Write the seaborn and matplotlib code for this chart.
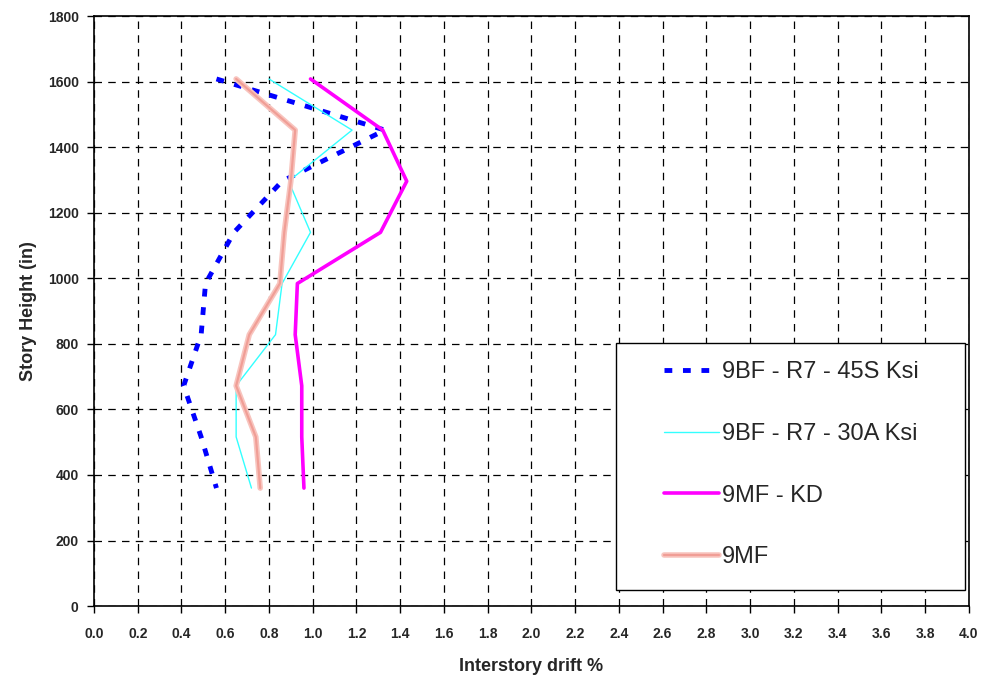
import matplotlib
matplotlib.use('Agg')
import matplotlib.pyplot as plt
import matplotlib.patheffects as pe
import seaborn as sns
import pandas as pd
from matplotlib.patches import Rectangle

# ── Data ───────────────────────────────────────────────────
story_height = [1608, 1452, 1296, 1140, 984, 828, 672, 516, 360]

drift_bf_45s = [0.56, 1.33, 0.86, 0.64, 0.51, 0.49, 0.41, 0.49, 0.56]
drift_bf_30a = [0.80, 1.18, 0.89, 0.99, 0.86, 0.83, 0.65, 0.65, 0.72]
drift_mf_kd = [0.99, 1.32, 1.43, 1.31, 0.93, 0.92, 0.95, 0.95, 0.96]
drift_mf = [0.65, 0.92, 0.90, 0.87, 0.85, 0.71, 0.65, 0.74, 0.76]

labels = ['9BF - R7 - 45S Ksi', '9BF - R7 - 30A Ksi', '9MF - KD', '9MF']

x_ticks = [round(0.2 * i, 1) for i in range(21)]
y_ticks = list(range(0, 1801, 200))

# ── Style ──────────────────────────────────────────────────
sns.set_style('white')
plt.rcParams['font.family'] = ['Liberation Sans', 'DejaVu Sans']

fig = plt.figure(figsize=(9.83, 6.81), dpi=100)
ax = fig.add_axes([0.0956, 0.110, 0.890, 0.8665])

series = [drift_bf_45s, drift_bf_30a, drift_mf_kd, drift_mf]
styles = [
    dict(color='#0000ff', linewidth=3.5, linestyle=(0, (1.6, 2.2))),
    dict(color='#33ffff', linewidth=1.0, linestyle='-'),
    dict(color='#ff00ff', linewidth=2.6, linestyle='-'),
    dict(color='#f8c4be', linewidth=4.0, linestyle='-'),
]

for vals, lab, st in zip(series, labels, styles):
    df = pd.DataFrame({'drift': vals, 'height': story_height})
    sns.lineplot(data=df, x='drift', y='height', sort=False, estimator=None,
                 ax=ax, label=lab, **st)

# hatched look for the 9MF band
ax.lines[-1].set_path_effects([
    pe.Normal(),
    pe.Stroke(linewidth=1.6, foreground='#ee8f86', alpha=0.7),
])

# ── Axes ───────────────────────────────────────────────────
ax.set_xlim(0, 4.0)
ax.set_ylim(0, 1800)
ax.set_xticks(x_ticks)
ax.set_yticks(y_ticks)
ax.set_xticklabels([f'{v:.1f}' for v in x_ticks], fontsize=10, fontweight='bold')
ax.set_yticklabels([str(v) for v in y_ticks], fontsize=10, fontweight='bold')
ax.tick_params(axis='x', direction='out', length=5, width=1, color='black',
               bottom=True, pad=10)
ax.tick_params(axis='y', direction='out', length=5, width=1, color='black',
               left=True, pad=6)
ax.grid(True, color='black', linestyle=(0, (6, 5)), linewidth=0.9)
for sp in ax.spines.values():
    sp.set_color('black')
    sp.set_linewidth(1.2)

ax.set_xlabel('Interstory drift %', fontsize=13, fontweight='bold', labelpad=12)
ax.set_ylabel('Story Height (in)', fontsize=13, fontweight='bold', labelpad=8)

# ── Legend ─────────────────────────────────────────────────
leg = ax.legend(loc='upper left', bbox_to_anchor=(0.652, 0.415), frameon=False,
                fontsize=17, handlelength=2.3, handletextpad=0.15,
                labelspacing=1.68, borderpad=0, borderaxespad=0)
ax.add_patch(Rectangle((0.5966, 0.027), 0.3988, 0.419, transform=ax.transAxes,
                       facecolor='white', edgecolor='black', linewidth=1,
                       zorder=4))
leg.set_zorder(5)

plt.savefig('out.png', dpi=100)
plt.close()
